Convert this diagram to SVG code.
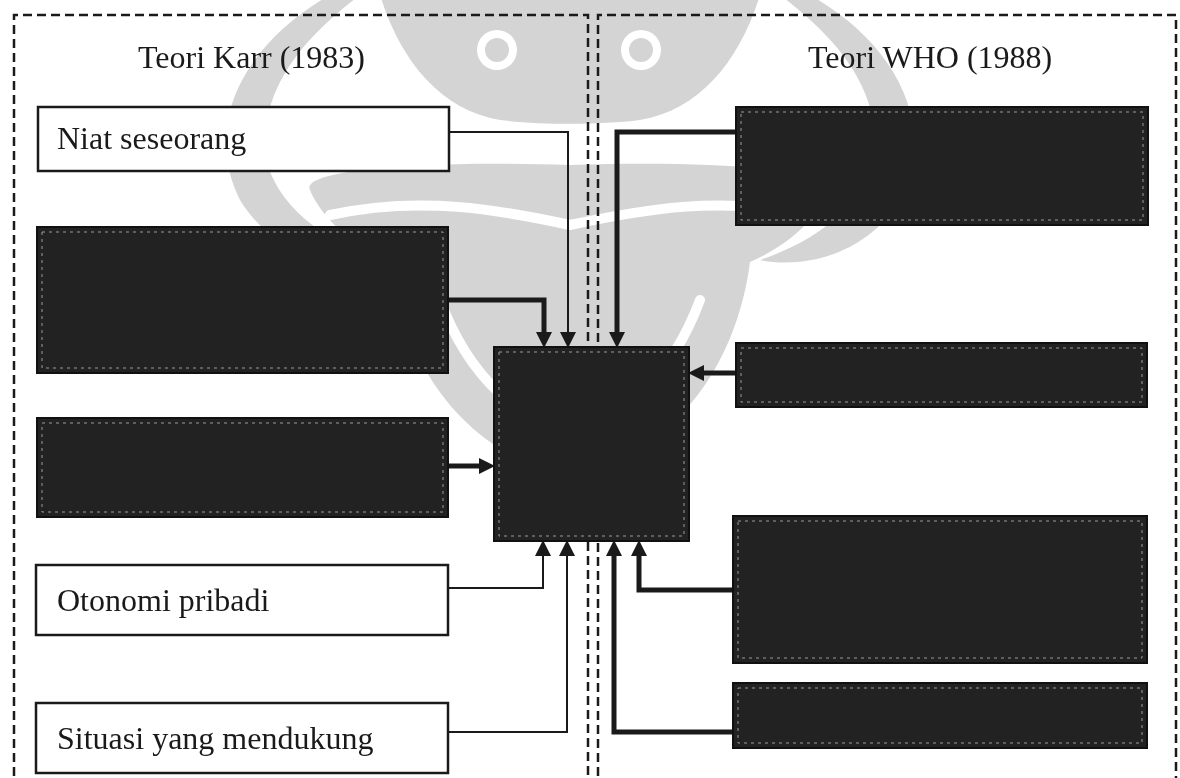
<svg xmlns="http://www.w3.org/2000/svg" width="1180" height="778" viewBox="0 0 1180 778">
<defs>
<style>
.frame{fill:none;stroke:#1a1a1a;stroke-width:2.5;stroke-dasharray:9 5}
.wbox{fill:#fff;stroke:#1a1a1a;stroke-width:2.5}
.dbox{fill:#222;stroke:#111;stroke-width:2}
.dline{fill:none;stroke:#9a9a9a;stroke-width:1;stroke-dasharray:3 4}
.t{font-family:"Liberation Serif","Times New Roman",serif;font-size:32px;fill:#1a1a1a}
.thin{fill:none;stroke:#1a1a1a;stroke-width:2;marker-end:url(#ah)}
.thick{fill:none;stroke:#1a1a1a;stroke-width:5;marker-end:url(#ah)}
.wm{fill:#d4d4d4}
.wmw{fill:none;stroke:#fff;stroke-width:10;stroke-linecap:round}
</style>
<marker id="ah" markerUnits="userSpaceOnUse" markerWidth="16" markerHeight="16" viewBox="0 0 16 16" refX="5" refY="8" orient="auto">
<path d="M0,0 L16,8 L0,16 Z" fill="#1a1a1a"/>
</marker>
</defs>
<rect width="1180" height="778" fill="#fff"/>

<g id="watermark" style="mix-blend-mode:multiply">
<path class="wm" d="M330,-5 C250,40 200,120 240,200 C270,250 330,270 380,260 C320,240 270,200 265,150 C262,90 300,40 360,-5 Z"/>
<path class="wm" d="M810,-5 C890,40 940,120 900,200 C870,250 810,270 760,260 C820,240 870,200 875,150 C878,90 840,40 780,-5 Z"/>
<path class="wm" d="M380,-5 H760 C740,60 700,110 640,120 C600,125 540,125 500,120 C440,110 400,60 380,-5 Z"/>
<path class="wm" d="M310,190 C300,170 420,160 570,165 C720,160 840,170 830,190 C820,215 790,245 750,262 C740,340 700,420 620,460 C580,475 560,475 520,460 C440,420 400,340 390,262 C350,245 320,215 310,190 Z"/>
<circle cx="497" cy="50" r="20" fill="#fff"/>
<circle cx="641" cy="50" r="20" fill="#fff"/>
<circle class="wm" cx="497" cy="50" r="12"/>
<circle class="wm" cx="641" cy="50" r="12"/>
<path class="wmw" d="M330,215 C420,195 500,210 570,225 C640,210 720,195 810,215"/>
<path class="wmw" d="M440,300 C470,380 520,420 570,430 C620,420 670,380 700,300"/>
</g>

<path class="frame" d="M14,790 V15 H588 V790"/>
<path class="frame" d="M598,790 V15 H1176 V790"/>

<text class="t" x="138" y="68">Teori Karr (1983)</text>
<text class="t" x="808" y="68">Teori WHO (1988)</text>

<g id="connectors">
<path class="thin" d="M449,132 H568 V337"/>
<path class="thick" d="M449,300 H544 V337"/>
<path class="thick" d="M736,132 H617 V337"/>
<path class="thick" d="M449,466 H484"/>
<path class="thick" d="M736,373 H699"/>
<path class="thin" d="M448,588 H543 V551"/>
<path class="thin" d="M448,732 H567 V551"/>
<path class="thick" d="M733,590 H639 V551"/>
<path class="thick" d="M733,732 H614 V551"/>
</g>

<g id="niat"><rect class="wbox" x="38" y="107" width="411" height="64"/><text class="t" x="57" y="149">Niat seseorang</text></g>
<g id="karr2"><rect class="dbox" x="37" y="227" width="411" height="146"/><rect class="dline" x="42" y="232" width="401" height="136"/></g>
<g id="karr3"><rect class="dbox" x="37" y="418" width="411" height="99"/><rect class="dline" x="42" y="423" width="401" height="89"/></g>
<g id="otonomi"><rect class="wbox" x="36" y="565" width="412" height="70"/><text class="t" x="57" y="611">Otonomi pribadi</text></g>
<g id="situasi"><rect class="wbox" x="36" y="703" width="412" height="70"/><text class="t" x="57" y="749">Situasi yang mendukung</text></g>

<g id="center"><rect class="dbox" x="494" y="347" width="195" height="194"/><rect class="dline" x="499" y="352" width="185" height="184"/></g>

<g id="whoA"><rect class="dbox" x="736" y="107" width="412" height="118"/><rect class="dline" x="741" y="112" width="402" height="108"/></g>
<g id="whoB"><rect class="dbox" x="736" y="343" width="411" height="64"/><rect class="dline" x="741" y="348" width="401" height="54"/></g>
<g id="whoC"><rect class="dbox" x="733" y="516" width="414" height="147"/><rect class="dline" x="738" y="521" width="404" height="137"/></g>
<g id="whoD"><rect class="dbox" x="733" y="683" width="414" height="65"/><rect class="dline" x="738" y="688" width="404" height="55"/></g>
</svg>
